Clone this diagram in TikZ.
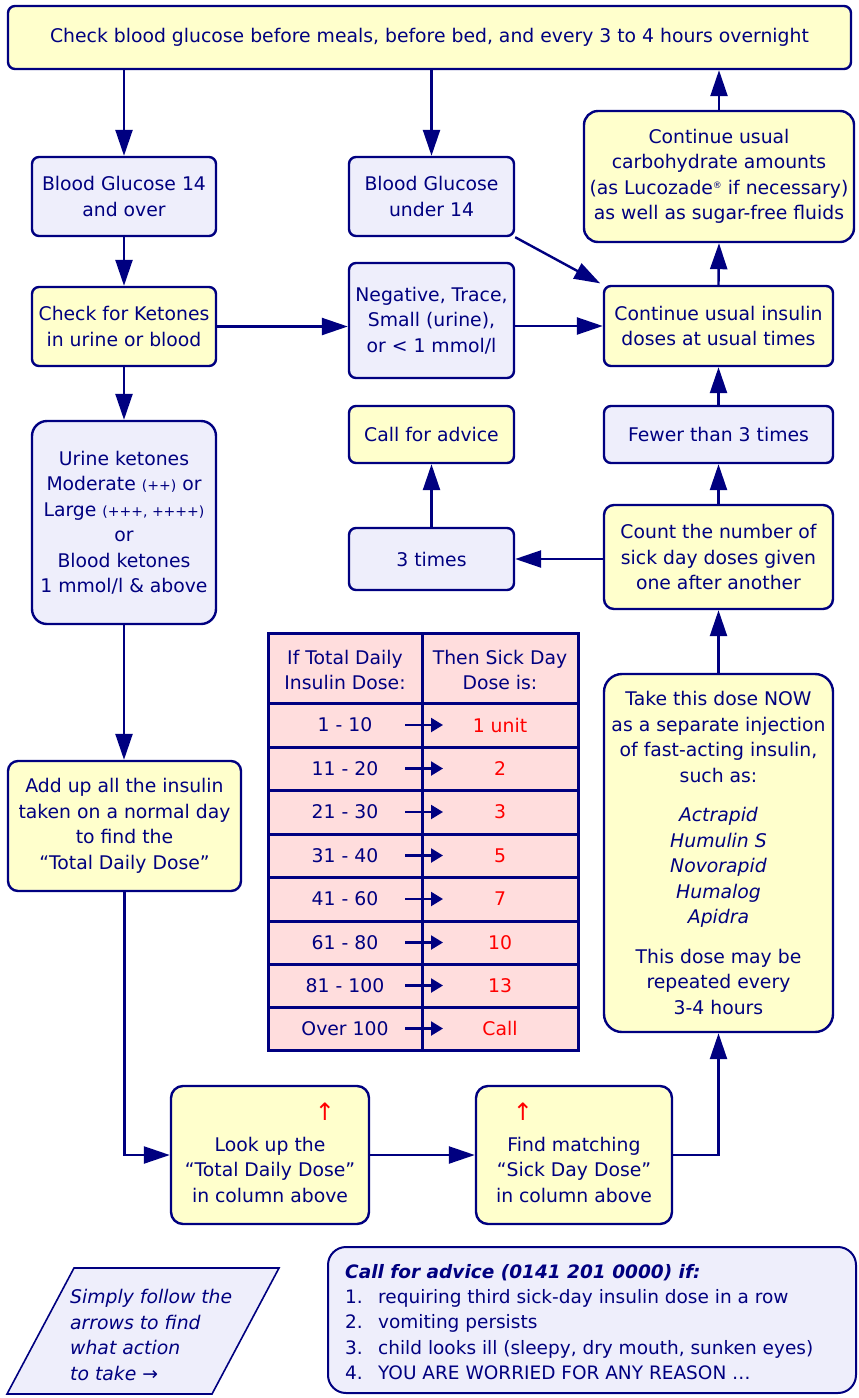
\documentclass[tikz,border=0pt]{standalone}
\usepackage{fontspec}
\setmainfont{DejaVu Sans}
\usetikzlibrary{arrows.meta}
\definecolor{navy}{HTML}{000080}
\definecolor{yfill}{HTML}{FFFFCC}
\definecolor{lfill}{HTML}{EEEEFB}
\definecolor{pfill}{HTML}{FFDDDD}
\definecolor{redtxt}{HTML}{FF0000}
\begin{document}
\begin{tikzpicture}[x=1pt,y=-1pt,
  every node/.style={text=navy, font=\fontsize{18.8}{25.5}\selectfont},
  box/.style={draw=navy, line width=2.4pt, rounded corners=7pt, align=center, inner sep=0pt},
  ybox/.style={box, fill=yfill},
  lbox/.style={box, fill=lfill},
  arr/.style={draw=navy, line width=2.4pt, -{Triangle[length=26pt,width=17pt]}},
  tarr/.style={draw=navy, line width=2.2pt, -{Triangle[length=12pt,width=14pt]}},
  tline/.style={draw=navy, line width=3pt},
  cell/.style={align=center, inner sep=0pt},
  red/.style={text=redtxt}
]
\useasboundingbox (0,0) rectangle (859,1398);

% boxes
\node[ybox, minimum width=843, minimum height=63] (top) at (429.5,37.5)
  {Check blood glucose before meals, before bed, and every 3 to 4 hours overnight};
\node[lbox, minimum width=184, minimum height=79] (bg14) at (124,196.5)
  {Blood Glucose 14\\and over};
\node[lbox, minimum width=165, minimum height=79] (bgu14) at (431.5,196.5)
  {Blood Glucose\\under 14};
\node[ybox, rounded corners=14pt, minimum width=270, minimum height=131] (carbs) at (719,176.5)
  {Continue usual\\carbohydrate amounts\\(as Lucozade{\fontsize{9}{9}\selectfont\raisebox{6pt}{®}} if necessary)\\as well as sugar-free fluids};
\node[ybox, minimum width=184, minimum height=79] (ketones) at (124,326.5)
  {Check for Ketones\\in urine or blood};
\node[lbox, minimum width=165, minimum height=115] (neg) at (431.5,320.5)
  {Negative, Trace,\\Small (urine),\\or < 1 mmol/l};
\node[ybox, minimum width=229, minimum height=80] (insulin) at (718.5,326)
  {Continue usual insulin\\doses at usual times};
\node[ybox, minimum width=165, minimum height=57] (advice) at (431.5,434.5)
  {Call for advice};
\node[lbox, minimum width=229, minimum height=57] (fewer) at (718.5,434.5)
  {Fewer than 3 times};
\node[lbox, rounded corners=15pt, minimum width=184, minimum height=203] (urine) at (124,522.5)
  {Urine ketones\\Moderate {\fontsize{14}{14}\selectfont(++)} or\\Large {\fontsize{14}{14}\selectfont(+++, ++++)}\\or\\Blood ketones\\1 mmol/l \& above};
\node[lbox, minimum width=165, minimum height=62] (three) at (431.5,559)
  {3 times};
\node[ybox, rounded corners=10pt, minimum width=229, minimum height=104] (count) at (718.5,557)
  {Count the number of\\sick day doses given\\one after another};
\node[ybox, rounded corners=10pt, minimum width=233, minimum height=130] (addup) at (124.5,826)
  {Add up all the insulin\\taken on a normal day\\to find the\\“Total Daily Dose”};
\node[ybox, rounded corners=18pt, minimum width=229, minimum height=358] (take) at (718.5,853)
  {Take this dose NOW\\as a separate injection\\of fast-acting insulin,\\such as:\\[14pt]\textit{Actrapid}\\\textit{Humulin S}\\\textit{Novorapid}\\\textit{Humalog}\\\textit{Apidra}\\[14pt]This dose may be\\repeated every\\3-4 hours};
\node[ybox, rounded corners=12pt, minimum width=198, minimum height=138] (lookup) at (270,1155)
  {\rule{0pt}{18pt}\\Look up the\\“Total Daily Dose”\\in column above};
\node[ybox, rounded corners=12pt, minimum width=196, minimum height=138] (find) at (574,1155)
  {\rule{0pt}{18pt}\\Find matching\\“Sick Day Dose”\\in column above};
\node[red, font=\fontsize{24}{24}\selectfont, inner sep=0pt] (up1) at (325,1112) {↑};
\node[red, font=\fontsize{24}{24}\selectfont, inner sep=0pt] (up2) at (523,1112) {↑};

% table
\draw[tline, fill=pfill] (268,633) rectangle (578,1050);
\draw[tline] (422,633) -- (422,1050);
\foreach \yy in {703,747,790,834,877,921,964,1007} \draw[tline] (268,\yy) -- (578,\yy);
\node[cell] (h1) at (345,670) {If Total Daily\\Insulin Dose:};
\node[cell] (h2) at (500,670) {Then Sick Day\\Dose is:};
\foreach \i/\yy/\l/\r in {1/725/1 - 10/1 unit, 2/768.5/11 - 20/2, 3/812/21 - 30/3, 4/855.5/31 - 40/5,
  5/899/41 - 60/7, 6/942.5/61 - 80/10, 7/985.5/81 - 100/13, 8/1028.5/Over 100/Call}{
  \node[cell] (L\i) at (345,\yy) {\l};
  \node[cell, red] (R\i) at (500,\yy) {\r};
  \coordinate (ta\i) at (405,\yy);
  \coordinate (tb\i) at (443,\yy);
  \draw[tarr] (ta\i) -- (tb\i);
}

% parallelogram note
\draw[draw=navy, line width=1.6pt, fill=lfill] (74,1268) -- (279,1268) -- (212,1394) -- (7,1394) -- cycle;
\node[anchor=west, align=left, inner sep=0pt, font=\fontsize{18.8}{25.5}\selectfont\itshape] (follow) at (70,1335)
  {Simply follow the\\arrows to find\\what action\\to take →};

% call box
\node[draw=navy, line width=2pt, fill=lfill, rounded corners=18pt, minimum width=528, minimum height=146] (callbox) at (592,1320) {};
\node[anchor=west, align=left, inner sep=0pt, font=\fontsize{18.5}{25.3}\selectfont] (calltext) at (345,1322)
  {\textbf{\textit{Call for advice (0141 201 0000) if:}}\\
   \makebox[33pt][l]{1.}requiring third sick-day insulin dose in a row\\
   \makebox[33pt][l]{2.}vomiting persists\\
   \makebox[33pt][l]{3.}child looks ill (sleepy, dry mouth, sunken eyes)\\
   \makebox[33pt][l]{4.}YOU ARE WORRIED FOR ANY REASON …};

% connectors
\draw[arr] (top.south -| bg14.north) -- (bg14.north);
\draw[arr] (top.south -| bgu14.north) -- (bgu14.north);
\draw[arr] (carbs.north) -- (carbs.north |- top.south);
\draw[arr] (bg14.south) -- (ketones.north);
\draw[arr] (ketones.east) -- (ketones.east -| neg.west);
\draw[arr] (insulin.west -| neg.east) -- (insulin.west);
\draw[arr, shorten >=3pt] (bgu14.south east) -- (insulin.north west);
\draw[arr] (insulin.north) -- (carbs.south);
\draw[arr] (ketones.south) -- (urine.north);
\draw[arr] (fewer.north) -- (insulin.south);
\draw[arr] (count.north) -- (fewer.south);
\draw[arr] (three.east -| count.west) -- (three.east);
\draw[arr] (three.north) -- (advice.south);
\draw[arr] (urine.south) -- (urine.south |- addup.north);
\draw[arr] (addup.south) |- (lookup.west);
\draw[arr] (lookup.east) -- (find.west);
\draw[arr] (find.east) -| (take.south);
\draw[arr] (take.north) -- (count.south);
\end{tikzpicture}
\end{document}
